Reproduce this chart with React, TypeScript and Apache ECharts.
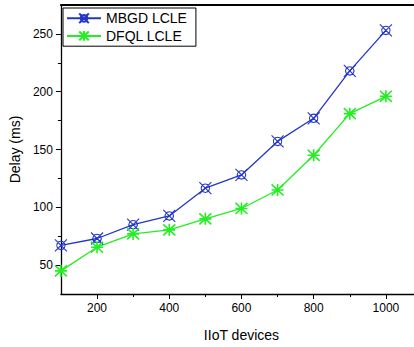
import React, { useEffect, useRef } from "react";
import * as echarts from "echarts";

const devices = [100, 200, 300, 400, 500, 600, 700, 800, 900, 1000];
const mbgd = [67, 73, 85, 92.5, 116.5, 128, 157, 177, 218, 253];
const dfql = [45, 65.5, 77, 80.5, 90, 99, 115, 145, 181, 196];
const xMajor = [200, 400, 600, 800, 1000];
const xMinor = [300, 500, 700, 900, 1100];
const yMajor = [50, 100, 150, 200, 250];
const yMinor = [75, 125, 175, 225];

const BLUE = "#2236c8";
const GREEN = "#22ee22";
const FONT = "Liberation Sans";

const crossCircle =
  "path://M0,0 L12,12 M12,0 L0,12 M6,1.8 A4.2,4.2 0 1 1 5.99,1.8 Z";
const asterisk = "path://M0,0 L12,12 M12,0 L0,12 M6,-0.5 L6,12.5 M0,6 L12,6";

export default function App() {
  const ref = useRef<HTMLDivElement>(null);
  useEffect(() => {
    if (!ref.current) return;
    const chart = echarts.init(ref.current, undefined, { renderer: "svg" });
    const axisLine = { show: true, lineStyle: { color: "#000", width: 1.3 } };
    chart.setOption({
      animation: false,
      textStyle: { fontFamily: FONT },
      grid: { left: 60, right: 8, top: 5, bottom: 50, containLabel: false },
      legend: {
        left: 63,
        top: 8,
        orient: "vertical",
        borderColor: "#000",
        borderWidth: 1,
        borderRadius: 0,
        padding: [3, 9, 3, 3],
        itemGap: 3,
        itemWidth: 34,
        itemHeight: 12,
        backgroundColor: "#fff",
        textStyle: { fontFamily: FONT, fontSize: 14, color: "#000" },
        data: ["MBGD LCLE", "DFQL LCLE"],
      },
      xAxis: [
        {
          type: "value",
          min: 100,
          max: 1100,
          position: "bottom",
          name: "IIoT devices",
          nameLocation: "middle",
          nameGap: 34,
          nameTextStyle: { fontFamily: FONT, fontSize: 14, color: "#000" },
          axisLine,
          splitLine: { show: false },
          axisTick: {
            show: true,
            customValues: xMajor,
            length: 5,
            lineStyle: { color: "#000", width: 1 },
          },
          axisLabel: {
            customValues: xMajor,
            formatter: (v: number) => String(v),
            fontFamily: FONT,
            fontSize: 12,
            color: "#000",
            margin: 8,
          },
        },
        {
          type: "value",
          min: 100,
          max: 1100,
          position: "bottom",
          axisLine: { show: false },
          splitLine: { show: false },
          axisLabel: { show: false },
          axisTick: {
            show: true,
            customValues: xMinor,
            length: 3,
            lineStyle: { color: "#000", width: 1 },
          },
        },
        {
          type: "value",
          min: 100,
          max: 1100,
          position: "top",
          axisLine: { show: true, lineStyle: { color: "#000", width: 2 } },
          splitLine: { show: false },
          axisLabel: { show: false },
          axisTick: { show: false },
        },
      ],
      yAxis: [
        {
          type: "value",
          min: 25,
          max: 275,
          name: "Delay (ms)",
          nameLocation: "middle",
          nameGap: 36,
          nameTextStyle: { fontFamily: FONT, fontSize: 14, color: "#000" },
          axisLine,
          splitLine: { show: false },
          axisTick: {
            show: true,
            customValues: yMajor,
            length: 5,
            lineStyle: { color: "#000", width: 1 },
          },
          axisLabel: {
            customValues: yMajor,
            formatter: (v: number) => String(v),
            fontFamily: FONT,
            fontSize: 12,
            color: "#000",
            margin: 8,
          },
        },
        {
          type: "value",
          min: 25,
          max: 275,
          position: "left",
          axisLine: { show: false },
          splitLine: { show: false },
          axisLabel: { show: false },
          axisTick: {
            show: true,
            customValues: yMinor,
            length: 3,
            lineStyle: { color: "#000", width: 1 },
          },
        },
      ],
      series: [
        {
          name: "MBGD LCLE",
          type: "line",
          data: devices.map((d, i) => [d, mbgd[i]]),
          symbol: crossCircle,
          symbolSize: 12,
          lineStyle: { color: BLUE, width: 1.3 },
          itemStyle: { color: "none", borderColor: BLUE, borderWidth: 1.1 },
        },
        {
          name: "DFQL LCLE",
          type: "line",
          data: devices.map((d, i) => [d, dfql[i]]),
          symbol: asterisk,
          symbolSize: 12,
          lineStyle: { color: GREEN, width: 1.3 },
          itemStyle: { color: "none", borderColor: GREEN, borderWidth: 1.6 },
        },
      ],
    });
    return () => chart.dispose();
  }, []);
  return (
    <div
      style={{
        position: "absolute",
        left: 0,
        top: 0,
        width: 414,
        height: 347,
        overflow: "hidden",
        background: "#fff",
      }}
    >
      <div ref={ref} style={{ width: 430, height: 347 }} />
    </div>
  );
}
